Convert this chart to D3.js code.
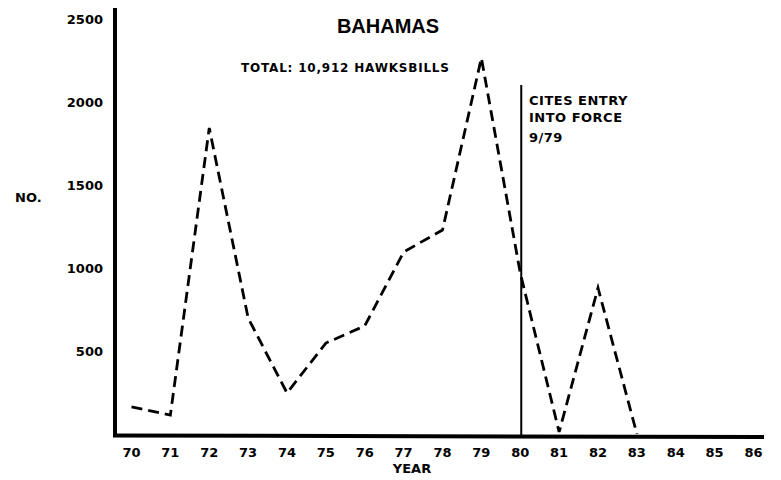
<!DOCTYPE html>
<html>
<head>
<meta charset="utf-8">
<script src="https://cdn.jsdelivr.net/npm/d3@7"></script>
<style>
  body { margin: 0; background: #fff; }
  text { font-family: "DejaVu Sans", "Liberation Sans", sans-serif; font-weight: bold; fill: #000; }
</style>
</head>
<body>
<svg id="chart" width="781" height="480"></svg>
<script>
// hawksbill exports, Bahamas
var years = [70, 71, 72, 73, 74, 75, 76, 77, 78, 79, 80, 81, 82, 83];
var counts = [163, 114, 1843, 699, 247, 548, 651, 1096, 1229, 2265, 970, 12, 880, 0];
var yearTicks = [70, 71, 72, 73, 74, 75, 76, 77, 78, 79, 80, 81, 82, 83, 84, 85, 86];
var countTicks = [500, 1000, 1500, 2000, 2500];
var citesYear = 80;
var citesLines = ["CITES ENTRY", "INTO FORCE", "9/79"];

var svg = d3.select("#chart");

var x = d3.scaleLinear().domain([70, 86]).range([131.5, 753.5]);
var y = d3.scaleLinear().domain([0, 2500]).range([434, 19]);

// axes, drawn heavy like the original print
svg.append("line")
  .attr("x1", 115).attr("x2", 115).attr("y1", 8).attr("y2", 437)
  .attr("stroke", "#000").attr("stroke-width", 4);
svg.append("line")
  .attr("x1", 113).attr("x2", 764).attr("y1", 435.5).attr("y2", 437)
  .attr("stroke", "#000").attr("stroke-width", 4);

svg.selectAll(".ytick")
  .data(countTicks)
  .enter().append("text")
    .attr("class", "ytick")
    .attr("x", 103)
    .attr("y", function(d) { return y(d) + 5; })
    .attr("text-anchor", "end")
    .style("font-size", "13px")
    .text(function(d) { return d; });

svg.selectAll(".xtick")
  .data(yearTicks)
  .enter().append("text")
    .attr("class", "xtick")
    .attr("x", function(d) { return x(d); })
    .attr("y", 457)
    .attr("text-anchor", "middle")
    .style("font-size", "13px")
    .text(function(d) { return d; });

svg.append("text")
  .attr("x", 412).attr("y", 473)
  .attr("text-anchor", "middle")
  .style("font-size", "13px")
  .text("YEAR");

svg.append("text")
  .attr("x", 15).attr("y", 202)
  .style("font-size", "13px")
  .text("NO.");

// titles
svg.append("text")
  .attr("x", 388).attr("y", 33)
  .attr("text-anchor", "middle")
  .style("font-family", "'Liberation Sans', Arial, sans-serif")
  .style("font-size", "20px")
  .text("BAHAMAS");

svg.append("text")
  .attr("x", 241).attr("y", 72)
  .style("font-size", "12px")
  .style("letter-spacing", "0.8px")
  .text("TOTAL: 10,912 HAWKSBILLS");

// CITES marker
svg.append("line")
  .attr("x1", x(citesYear) + 1).attr("x2", x(citesYear) + 1)
  .attr("y1", 85).attr("y2", 436)
  .attr("stroke", "#000").attr("stroke-width", 2);

svg.selectAll(".cites")
  .data(citesLines)
  .enter().append("text")
    .attr("class", "cites")
    .attr("x", 529)
    .attr("y", function(d, i) { return [105, 122, 142][i]; })
    .style("font-size", "13px")
    .style("letter-spacing", "0.5px")
    .text(function(d) { return d; });

// data line
var line = d3.line()
  .x(function(d, i) { return x(years[i]); })
  .y(function(d) { return y(d); });

svg.append("path")
  .datum(counts)
  .attr("d", line)
  .attr("fill", "none")
  .attr("stroke", "#000")
  .attr("stroke-width", 2.8)
  .attr("stroke-dasharray", "11,6");
</script>
</body>
</html>
